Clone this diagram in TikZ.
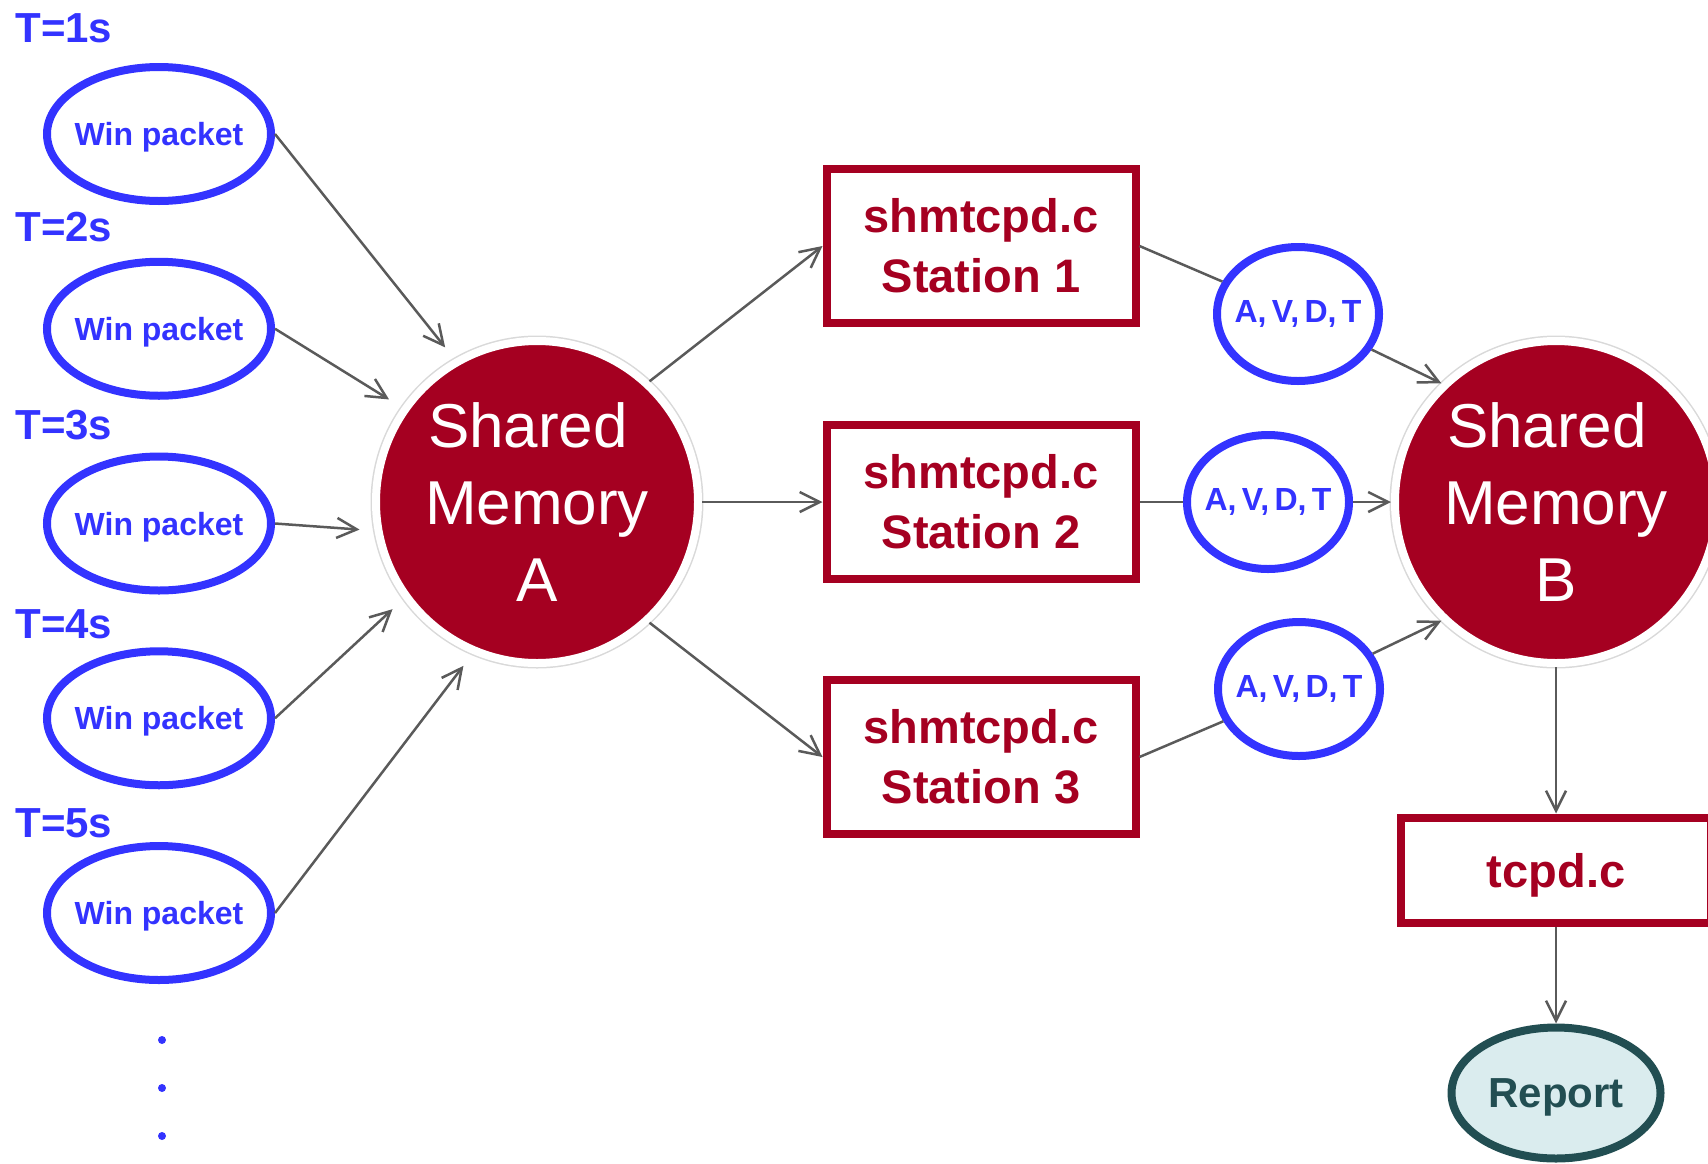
\documentclass[tikz,border=0pt]{standalone}
\usepackage{fontspec}
\setmainfont{Liberation Sans}
\newfontfamily\avdtfont[WordSpace=0.6]{Liberation Sans}
\usetikzlibrary{shapes.geometric,arrows.meta}

\definecolor{pktblue}{RGB}{51,51,255}
\definecolor{memred}{RGB}{165,0,33}
\definecolor{linkgray}{RGB}{90,90,90}
\definecolor{repfill}{RGB}{218,236,238}
\definecolor{repline}{RGB}{34,78,82}

\begin{document}
\begin{tikzpicture}[x=0.5pt,y=-0.5pt,
  winpkt/.style={ellipse,draw=pktblue,line width=4pt,minimum width=112pt,minimum height=67pt,
    inner xsep=-10pt,inner ysep=0pt,text depth=0pt,text=pktblue,
    font=\fontsize{16pt}{19pt}\selectfont\bfseries},
  tlabel/.style={anchor=west,text=pktblue,inner sep=0pt,font=\fontsize{21pt}{25pt}\selectfont\bfseries},
  shmem/.style={circle,fill=memred,draw=white,line width=4pt,minimum size=161pt,inner sep=0pt,
    text=white,align=center,font=\fontsize{31pt}{38.5pt}\selectfont,
    preaction={draw=black!15,line width=5.5pt}},
  station/.style={rectangle,draw=memred,line width=4pt,minimum width=154.5pt,minimum height=77pt,
    text=memred,align=center,font=\fontsize{23.5pt}{30pt}\selectfont\bfseries},
  avdt/.style={ellipse,draw=pktblue,line width=4pt,minimum width=81pt,minimum height=67pt,
    inner xsep=-10pt,text=pktblue,font=\fontsize{16pt}{19pt}\avdtfont\bfseries},
  report/.style={ellipse,fill=repfill,draw=repline,line width=4pt,minimum width=104.5pt,
    minimum height=65.5pt,inner xsep=-10pt,text depth=0pt,text=repline,
    font=\fontsize{21pt}{25pt}\selectfont\bfseries},
  link/.style={draw=linkgray,line width=1.25pt},
  flow/.style={link,-{Straight Barb[length=10pt,width=10pt]}},
]
  \useasboundingbox (0,0) rectangle (1708,1163);

  % packets over time
  \foreach \i in {1,...,5} {
    \node[tlabel] (t\i) at (15,{28+198.75*(\i-1)}) {T=\i s};
    \node[winpkt] (w\i) at (159,{134+194.75*(\i-1)}) {Win packet};
  }
  \foreach \y in {1040,1088,1136}
    \fill[pktblue] (162,\y) circle (4);

  % memories and stations
  \node[shmem] (A) at (537,502) {Shared\kern9pt\\Memory\\A};
  \node[station] (s1) at (981,246) {shmtcpd.c\\Station 1};
  \node[station] (s2) at (981,502) {shmtcpd.c\\Station 2};
  \node[station] (s3) at (981,757) {shmtcpd.c\\Station 3};
  \node[avdt] (e1) at (1298,314) {A, V, D, T};
  \node[avdt] (e2) at (1268,502) {A, V, D, T};
  \node[avdt] (e3) at (1299,689) {A, V, D, T};
  \node[shmem] (B) at (1556,502) {Shared\kern9pt\\Memory\\B};
  \node[station,minimum width=155pt,minimum height=52.5pt,text depth=0pt] (tcpd) at (1556,870) {tcpd.c};
  \node[report] (rep) at (1556,1093) {Report};

  % connectors
  \foreach \i/\a in {1/120,2/145,3/190,4/216,5/247}
    \draw[flow,shorten >=7.5pt] (w\i.east) -- (A.\a);
  \draw[flow] (A.47) -- (s1.west);
  \draw[flow] (A) -- (s2);
  \draw[flow] (A.-47) -- (s3.west);
  \foreach \i in {1,2,3}
    \draw[link] (s\i.east) -- (e\i);
  \draw[flow] (e1) -- (B.134);
  \draw[flow] (e2) -- (B);
  \draw[flow] (e3) -- (B.-134);
  \draw[flow] (B) -- (tcpd);
  \draw[flow] (tcpd) -- (rep);
\end{tikzpicture}
\end{document}
